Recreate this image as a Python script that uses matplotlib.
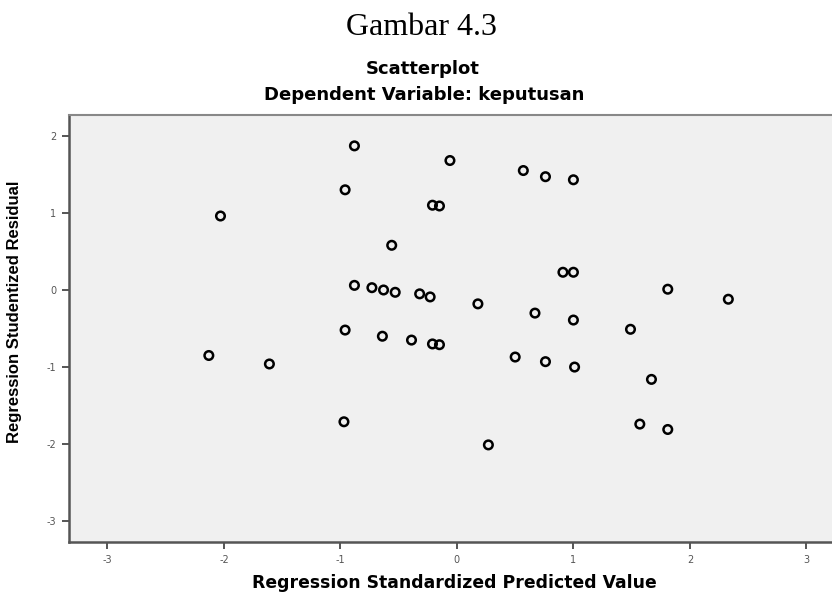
import numpy as np
import matplotlib
matplotlib.use("Agg")
import matplotlib.pyplot as plt

# ----------------------------
# Data
# ----------------------------
pred_value = [
    -0.88, -0.06, 0.57, 0.76, 1.00, -0.96, -2.03, -0.21, -0.15, -0.56,
    0.91, 1.00, -0.88, -0.73, -0.63, -0.53, -0.32, -0.23, 1.81, 2.33,
    0.18, 0.67, 1.00, 1.49, -0.96, -0.64, -0.39, -0.21, -0.15, -2.13,
    -1.61, 0.50, 0.76, 1.01, 1.67, -0.97, 0.27, 1.57, 1.81,
]
stud_resid = [
    1.87, 1.68, 1.55, 1.47, 1.43, 1.30, 0.96, 1.10, 1.09, 0.58,
    0.23, 0.23, 0.06, 0.03, 0.00, -0.03, -0.05, -0.09, 0.01, -0.12,
    -0.18, -0.30, -0.39, -0.51, -0.52, -0.60, -0.65, -0.70, -0.71, -0.85,
    -0.96, -0.87, -0.93, -1.00, -1.16, -1.71, -2.01, -1.74, -1.81,
]
x_ticks = [-3, -2, -1, 0, 1, 2, 3]
y_ticks = [-3, -2, -1, 0, 1, 2]

WIDE = ["DejaVu Sans"]
ARIAL = ["Liberation Sans", "DejaVu Sans"]
W, H = 832, 593

fig = plt.figure(figsize=(8.32, 5.93), dpi=100)
fig.patch.set_facecolor("white")

ax = fig.add_axes([0.083, 0.086, 0.917, 0.720])
ax.set_facecolor("#f0f0f0")

ax.scatter(pred_value, stud_resid, s=38, marker="o", facecolors="none",
           edgecolors="black", linewidths=1.8, zorder=3)

ax.set_xlim(-3.33, 3.22)
ax.set_ylim(-3.27, 2.27)
ax.set_xticks(x_ticks)
ax.set_yticks(y_ticks)
ax.set_xticklabels([str(t) for t in x_ticks], family=WIDE, fontsize=7, color="#555555")
ax.set_yticklabels([str(t) for t in y_ticks], family=WIDE, fontsize=7, color="#555555")
ax.tick_params(direction="out", length=5, width=1.4, color="#555555", pad=4)

for side in ["left", "bottom"]:
    ax.spines[side].set_color("#555555")
    ax.spines[side].set_linewidth(1.8)
ax.spines["top"].set_color("#888888")
ax.spines["top"].set_linewidth(1.5)
ax.spines["right"].set_visible(False)

ax.set_ylabel("Regression Studentized Residual", family=ARIAL,
              fontsize=12, fontweight="bold")
ax.yaxis.set_label_coords(-0.062, 0.539)

# titles and x label placed in figure pixels (top-left origin)
fig.text(422 / W, 1 - 35 / H, "Gambar 4.3", family=["Liberation Serif", "DejaVu Serif"],
         fontsize=23, ha="center", va="baseline")
fig.text(423 / W, 1 - 74 / H, "Scatterplot", family=WIDE, fontsize=13,
         fontweight="bold", ha="center", va="baseline")
fig.text(424 / W, 1 - 100 / H, "Dependent Variable: keputusan", family=WIDE, fontsize=13,
         fontweight="bold", ha="center", va="baseline")
fig.text(454 / W, 1 - 588 / H, "Regression Standardized Predicted Value", family=WIDE,
         fontsize=12.4, fontweight="bold", ha="center", va="baseline")

fig.savefig("out.png", dpi=100)
